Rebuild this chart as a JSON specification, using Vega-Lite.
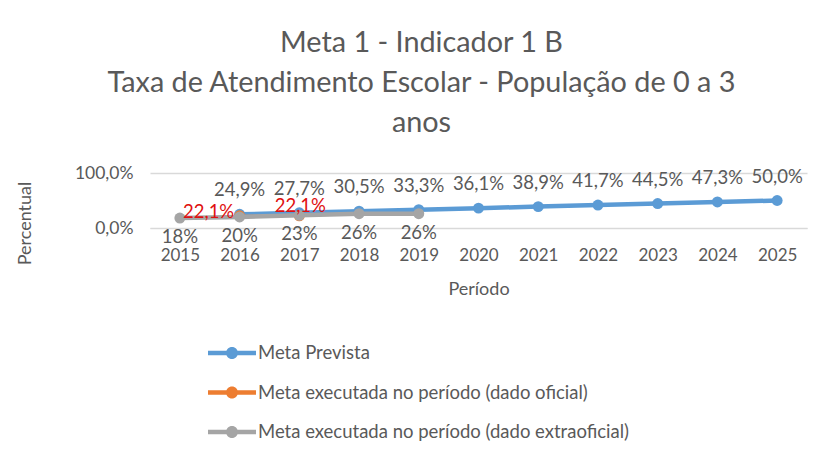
{
  "$schema": "https://vega.github.io/schema/vega-lite/v6.json",
  "width": 657,
  "height": 55,
  "autosize": "none",
  "padding": {"left": 150, "top": 173, "right": 9, "bottom": 231},
  "config": {
    "locale": {"number": {"decimal": ",", "thousands": ".", "grouping": [3], "currency": ["R$", ""]}},
    "view": {"stroke": null},
    "font": "Lato",
    "text": {"font": "Lato"}
  },
  "title": {
    "text": ["Meta 1 - Indicador 1 B", "Taxa de Atendimento Escolar - População de 0 a 3", "anos"],
    "fontSize": 28.8,
    "fontWeight": "normal",
    "font": "Lato",
    "color": "#595959",
    "lineHeight": 40,
    "anchor": "middle",
    "dx": -57,
    "offset": 26
  },
  "data": {
    "values": [
      {"ano": "2016", "serie": "Meta Prevista", "valor": 0.249},
      {"ano": "2017", "serie": "Meta Prevista", "valor": 0.277},
      {"ano": "2018", "serie": "Meta Prevista", "valor": 0.305},
      {"ano": "2019", "serie": "Meta Prevista", "valor": 0.333},
      {"ano": "2020", "serie": "Meta Prevista", "valor": 0.361},
      {"ano": "2021", "serie": "Meta Prevista", "valor": 0.389},
      {"ano": "2022", "serie": "Meta Prevista", "valor": 0.417},
      {"ano": "2023", "serie": "Meta Prevista", "valor": 0.445},
      {"ano": "2024", "serie": "Meta Prevista", "valor": 0.473},
      {"ano": "2025", "serie": "Meta Prevista", "valor": 0.5},
      {"ano": "2016", "serie": "Meta executada no período (dado oficial)", "valor": 0.221},
      {"ano": "2017", "serie": "Meta executada no período (dado oficial)", "valor": 0.221},
      {"ano": "2015", "serie": "Meta executada no período (dado extraoficial)", "valor": 0.18},
      {"ano": "2016", "serie": "Meta executada no período (dado extraoficial)", "valor": 0.2},
      {"ano": "2017", "serie": "Meta executada no período (dado extraoficial)", "valor": 0.23},
      {"ano": "2018", "serie": "Meta executada no período (dado extraoficial)", "valor": 0.26},
      {"ano": "2019", "serie": "Meta executada no período (dado extraoficial)", "valor": 0.26}
    ]
  },
  "encoding": {
    "x": {
      "field": "ano",
      "type": "ordinal",
      "scale": {"type": "point", "padding": 0.5, "domain": ["2015","2016","2017","2018","2019","2020","2021","2022","2023","2024","2025"]},
      "axis": {
        "title": "Período",
        "titleFontSize": 18,
        "titleFontWeight": "normal",
        "titleColor": "#595959",
        "titlePadding": 17,
        "labelFontSize": 17,
        "labelColor": "#595959",
        "labelAngle": 0,
        "labelPadding": 19,
        "ticks": false,
        "domain": true,
        "domainColor": "#d9d9d9",
        "grid": false
      }
    },
    "y": {
      "field": "valor",
      "type": "quantitative",
      "scale": {"domain": [0, 1], "nice": false},
      "axis": {
        "title": "Percentual",
        "titleFontSize": 18,
        "titleFontWeight": "normal",
        "titleColor": "#595959",
        "titleX": -116,
        "titleY": 50,
        "values": [0, 1],
        "format": ".1%",
        "labelFontSize": 17.5,
        "labelColor": "#595959",
        "labelPadding": 17,
        "ticks": false,
        "domain": false,
        "grid": true,
        "gridColor": "#d9d9d9",
        "gridWidth": 1.5
      }
    },
    "color": {
      "field": "serie",
      "type": "nominal",
      "scale": {
        "domain": ["Meta Prevista", "Meta executada no período (dado oficial)", "Meta executada no período (dado extraoficial)"],
        "range": ["#5b9bd5", "#ed7d31", "#a5a5a5"]
      },
      "legend": {
        "title": null,
        "orient": "none",
        "legendX": 70,
        "legendY": 168,
        "direction": "vertical",
        "padding": 0,
        "rowPadding": 17.5,
        "labelFontSize": 18.5,
        "labelColor": "#595959",
        "labelLimit": 500,
        "labelOffset": 14,
        "symbolType": "M-2,-0.18L2,-0.18L2,0.18L-2,0.18Z M0.5,0A0.5,0.5,0,1,1,-0.5,0A0.5,0.5,0,1,1,0.5,0Z",
        "symbolSize": 576,
        "symbolStrokeWidth": 0
      }
    }
  },
  "layer": [
    {
      "transform": [{"filter": "datum.serie === 'Meta Prevista'"}],
      "mark": {"type": "line", "strokeWidth": 4.5}
    },
    {
      "transform": [{"filter": "datum.serie === 'Meta Prevista'"}],
      "mark": {"type": "point", "filled": true, "size": 120, "opacity": 1}
    },
    {
      "transform": [{"filter": "datum.serie === 'Meta executada no período (dado oficial)'"}],
      "mark": {"type": "line", "strokeWidth": 2}
    },
    {
      "transform": [{"filter": "datum.serie === 'Meta executada no período (dado oficial)'"}],
      "mark": {"type": "point", "filled": true, "size": 120, "opacity": 1}
    },
    {
      "transform": [{"filter": "datum.serie === 'Meta executada no período (dado extraoficial)'"}],
      "mark": {"type": "line", "strokeWidth": 4.5}
    },
    {
      "transform": [{"filter": "datum.serie === 'Meta executada no período (dado extraoficial)'"}],
      "mark": {"type": "point", "filled": true, "size": 120, "opacity": 1}
    },
    {
      "transform": [{"filter": "datum.serie === 'Meta Prevista'"}],
      "mark": {"type": "text", "dy": -24, "fontSize": 18.5},
      "encoding": {"text": {"field": "valor", "type": "quantitative", "format": ".1%"}, "color": {"value": "#595959"}}
    },
    {
      "transform": [{"filter": "datum.serie === 'Meta executada no período (dado oficial)' && datum.ano === '2016'"}],
      "mark": {"type": "text", "dx": -31, "dy": -4, "fontSize": 18.5},
      "encoding": {"text": {"field": "valor", "type": "quantitative", "format": ".1%"}, "color": {"value": "#e01010"}}
    },
    {
      "transform": [{"filter": "datum.serie === 'Meta executada no período (dado oficial)' && datum.ano === '2017'"}],
      "mark": {"type": "text", "dx": 1, "dy": -10, "fontSize": 18.5},
      "encoding": {"text": {"field": "valor", "type": "quantitative", "format": ".1%"}, "color": {"value": "#e01010"}}
    },
    {
      "transform": [{"filter": "datum.serie === 'Meta executada no período (dado extraoficial)'"}],
      "mark": {"type": "text", "dy": 19, "fontSize": 18.5},
      "encoding": {"text": {"field": "valor", "type": "quantitative", "format": ".0%"}, "color": {"value": "#595959"}}
    }
  ]
}
